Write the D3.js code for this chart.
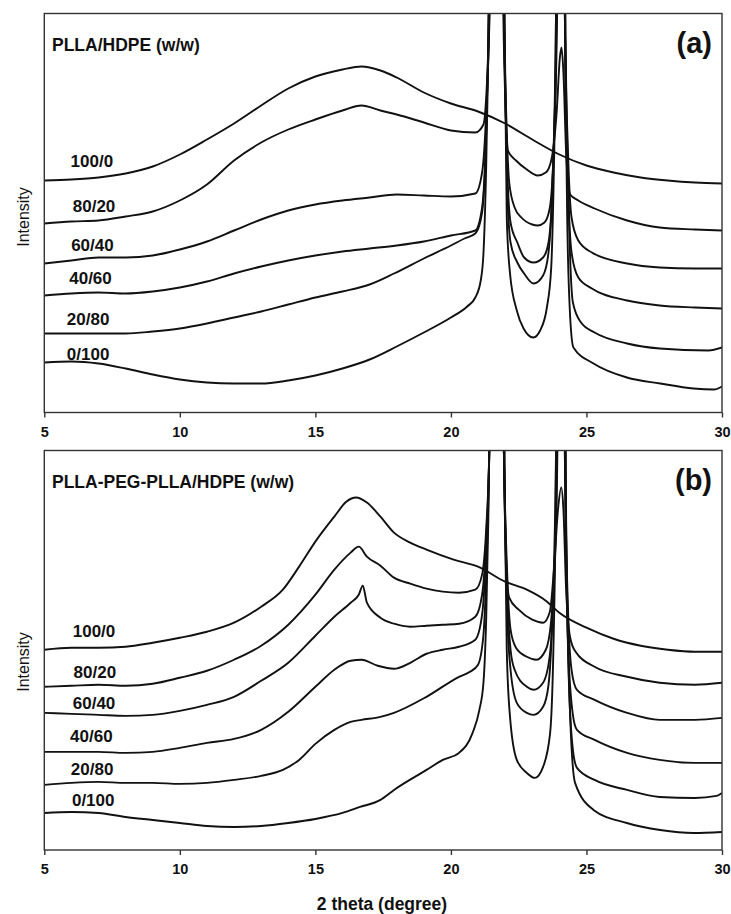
<!DOCTYPE html>
<html>
<head>
<meta charset="utf-8">
<script src="https://cdn.jsdelivr.net/npm/d3@7"></script>
<style>
body { margin: 0; background: #fff; }
text { font-family: "Liberation Sans", Arial, sans-serif; }
</style>
</head>
<body>
<svg id="chart" width="731" height="914"></svg>
<script>
// x ticks (2 theta, degree) and blend names
var ticks = [5, 10, 15, 20, 25, 30];
var blends = ["100/0", "80/20", "60/40", "40/60", "20/80", "0/100"];

// (a) PLLA/HDPE, [2theta, intensity a.u.]; peaks past the frame are clipped
var a100_0 = [[5,232],[6,233],[7,235],[8,239],[9,246],[10,258],[11,273],[12,289],[13,307],[14,324],[15,336],[16,343],[16.7,346],[17.4,342],[18,335],[19,320],[20,309],[21,301],[22,289],[23,273],[24,258],[25,247],[26,240],[27,235],[28,232],[29,230],[30,229]];
var a80_20 = [[5,189],[6,191],[7,192],[8,196],[9,201],[10,212],[11,228],[12,252],[13,270],[14,283],[15,293],[16,302],[16.7,307],[17.4,302],[18,298],[19,290],[20,282],[20.9,280],[21.2,288],[21.33,330],[21.43,405],[21.68,1400],[21.93,405],[22.02,300],[22.1,262],[22.4,252],[22.8,243],[23.2,237],[23.5,240],[23.7,252],[23.9,300],[24.02,355],[24.08,365],[24.15,340],[24.25,260],[24.4,218],[24.7,212],[25.3,204],[26.5,192],[27.7,185],[29,183],[30,182]];
var a60_40 = [[5,149],[6,152],[7,155],[8,155],[9,157],[10,163],[11,171],[12,182],[13,193],[14,202],[15,208],[16,212],[17,215],[18,218],[19,217],[20,216],[20.9,219],[21.15,240],[21.3,300],[21.42,405],[21.68,1400],[21.95,405],[22.05,290],[22.15,230],[22.35,205],[22.6,195],[23,188],[23.2,187],[23.45,190],[23.65,205],[23.8,270],[23.92,405],[24.06,1400],[24.2,405],[24.32,260],[24.45,195],[24.7,172],[25.2,160],[26.5,149],[27.7,145],[29,144],[30,144]];
var a40_60 = [[5,117],[6,119],[7,120],[8,119],[9,121],[10,125],[11,131],[12,139],[13,146],[14,152],[15,157],[16,161],[17,164],[18,167],[19,171],[20,177],[20.9,182],[21.15,205],[21.3,280],[21.4,405],[21.68,1400],[21.95,405],[22.07,250],[22.2,190],[22.45,170],[22.7,155],[23.05,150],[23.4,155],[23.6,170],[23.75,230],[23.9,405],[24.06,1400],[24.2,405],[24.32,230],[24.45,160],[24.7,135],[25.2,124],[26.5,112],[27.7,107],[29,105],[30,104]];
var a20_80 = [[5,79],[6,79],[7,79],[8,79],[9,81],[10,84],[11,89],[12,95],[13,101],[14,108],[15,115],[16,121],[17,128],[17.9,139],[19,154],[20,167],[20.5,174],[20.9,179],[21.15,200],[21.3,280],[21.4,405],[21.68,1400],[21.95,405],[22.07,230],[22.2,170],[22.45,150],[22.7,139],[23.05,129],[23.4,137],[23.6,160],[23.75,230],[23.88,405],[24.06,1400],[24.22,405],[24.35,200],[24.5,110],[24.8,90],[25.3,80],[26.5,69],[27.7,64],[29.5,62],[30,65]];
var a0_100 = [[5,50],[6,51],[7,49],[8,44],[9,38],[10,33],[11,30],[12,29],[13,29],[14,32],[15,37],[16,44],[17,53],[18,66],[19,80],[20,95],[20.6,106],[20.9,115],[21.1,132],[21.2,159],[21.3,245],[21.37,345],[21.68,1400],[22,345],[22.06,195],[22.18,139],[22.43,102],[22.68,84],[23.04,75],[23.29,82],[23.54,105],[23.7,145],[23.8,245],[23.86,345],[24.06,1400],[24.22,345],[24.3,179],[24.4,95],[24.52,65],[25.26,49],[26.49,35],[27.72,29],[28.95,24],[29.7,23],[30,26]];

// (b) PLLA-PEG-PLLA/HDPE
var b100_0 = [[5,200],[6,202],[7,202],[8,203],[9,207],[10,212],[11,218],[12,227],[13,243],[13.8,260],[14.4,283],[15,308],[15.7,333],[16.15,348],[16.5,352],[16.9,347],[17.4,333],[17.9,317],[18.5,307],[19.1,300],[20.1,290],[21,283],[22,268],[22.8,260],[23.5,249],[24,237],[25,222],[26,211],[27,204],[28,200],[29,198],[30,198]];
var b80_20 = [[5,163],[6,164],[7,165],[8,164],[9,166],[10,172],[11,179],[12,190],[13,204],[14,225],[15,255],[15.7,280],[16.3,297],[16.6,303],[16.9,293],[17.4,284],[17.9,272],[18.5,266],[19.1,261],[19.7,258],[20.3,257],[20.9,260],[21.15,275],[21.3,320],[21.42,405],[21.68,1400],[21.95,405],[22.05,280],[22.15,252],[22.5,240],[23,230],[23.4,227],[23.65,238],[23.8,280],[23.95,340],[24.07,362],[24.15,340],[24.25,260],[24.4,212],[24.6,198],[25.3,183],[26.5,173],[27.7,167],[29,165],[30,167]];
var b60_40 = [[5,137],[6,136],[7,135],[8,134],[9,135],[10,139],[11,145],[12,153],[13,169],[14,187],[15,214],[15.7,233],[16.3,247],[16.6,255],[16.75,264],[16.9,247],[17.4,232],[17.9,226],[18.5,223],[19.1,224],[19.7,225],[20.3,226],[20.9,233],[21.15,255],[21.3,310],[21.42,405],[21.68,1400],[21.95,405],[22.07,280],[22.2,220],[22.4,202],[22.8,193],[23.15,190],[23.5,200],[23.7,230],[23.85,300],[23.93,405],[24.06,1400],[24.2,405],[24.32,240],[24.45,180],[24.65,160],[25.3,150],[26.5,137],[27.7,130],[29,130],[30,132]];
var b40_60 = [[5,98],[6,98],[7,98],[8,97],[9,98],[10,102],[11,107],[12,111],[13,120],[14,138],[15,163],[15.7,180],[16.3,189],[16.7,190],[17.3,184],[17.9,181],[18.5,187],[19.1,196],[19.7,200],[20.3,203],[20.9,210],[21.15,235],[21.3,300],[21.42,405],[21.68,1400],[21.95,405],[22.07,260],[22.2,200],[22.35,180],[22.8,163],[23.05,160],[23.4,167],[23.65,195],[23.8,270],[23.92,405],[24.06,1400],[24.2,405],[24.33,200],[24.5,135],[24.65,120],[25.3,110],[26.5,97],[27.7,90],[29,87],[30,87]];
var b20_80 = [[5,65],[6,67],[7,68],[8,67],[9,67],[10,66],[11,67],[12,70],[13,74],[13.8,80],[14.4,90],[15,106],[15.7,120],[16.3,128],[16.7,130],[17.4,133],[17.9,137],[19.1,153],[20.3,173],[20.7,178],[21,185],[21.2,215],[21.32,290],[21.42,405],[21.68,1400],[21.95,405],[22.07,240],[22.2,180],[22.43,147],[22.8,137],[23.05,135],[23.4,143],[23.6,165],[23.75,240],[23.88,405],[24.06,1400],[24.22,405],[24.35,170],[24.5,100],[24.65,82],[25.3,70],[26.5,60],[27.7,53],[29,52],[29.8,54],[30,57]];
var b0_100 = [[5,37],[6,38],[7,37],[8,33],[9,30],[10,27],[11,24],[12,23],[13,24],[14,27],[15,31],[16,37],[16.65,43],[17.4,50],[17.9,60],[19.1,80],[19.7,90],[20.3,97],[20.8,117],[21.05,140],[21.2,167],[21.3,230],[21.38,330],[21.68,1400],[22,330],[22.06,200],[22.18,133],[22.43,90],[22.8,77],[23.1,72],[23.4,83],[23.66,117],[23.78,200],[23.86,330],[24.06,1400],[24.25,330],[24.4,133],[24.58,67],[25.26,40],[26.49,27],[27.72,20],[28.95,17],[30,18]];

// where each blend label sits (2theta, intensity of the baseline)
var labelAtA = [[5.97,246],[6.05,201],[5.99,162],[5.92,129],[5.83,88],[5.83,53]];
var labelAtB = [[6.05,213],[6.08,172],[6.05,141],[5.95,108],[5.98,75],[6.02,44]];

var svg = d3.select("#chart");
var x = d3.scaleLinear().domain([5, 30]).range([44.3, 722]);

var drawPanel = function(top, bottom, id, title, letter, series, labelAt, yLabelMid) {
  var y = d3.scaleLinear().domain([0, 399]).range([bottom, top]);
  var g = svg.append("g");

  g.append("clipPath").attr("id", id).append("rect")
    .attr("x", x(5)).attr("y", top).attr("width", x(30) - x(5)).attr("height", bottom - top);

  var line = d3.line().x(function(d) { return x(d[0]); }).y(function(d) { return y(d[1]); })
    .curve(d3.curveMonotoneX);

  var lines = g.append("g").attr("clip-path", "url(#" + id + ")");
  series.forEach(function(s) {
    lines.append("path").attr("d", line(s)).attr("fill", "none")
      .attr("stroke", "#111").attr("stroke-width", 1.9).attr("stroke-linejoin", "round");
  });

  g.append("rect").attr("x", x(5)).attr("y", top).attr("width", x(30) - x(5)).attr("height", bottom - top)
    .attr("fill", "none").attr("stroke", "#333").attr("stroke-width", 1.4);

  var axis = g.append("g").attr("transform", "translate(0," + bottom + ")")
    .call(d3.axisBottom(x).tickValues(ticks).tickSize(5).tickPadding(9).tickFormat(d3.format("d")));
  axis.select(".domain").remove();
  axis.selectAll(".tick line").attr("stroke", "#333").attr("stroke-width", 1.4);
  axis.selectAll(".tick text").attr("fill", "#111").attr("font-size", 14.5).attr("font-weight", "bold")
    .attr("font-family", "'Liberation Sans', Arial, sans-serif");

  blends.forEach(function(b, i) {
    g.append("text").attr("x", x(labelAt[i][0])).attr("y", y(labelAt[i][1]))
      .attr("font-size", 17).attr("font-weight", "bold").attr("fill", "#111").text(b);
  });

  g.append("text").attr("x", 52).attr("y", top + 37.5)
    .attr("font-size", 17.5).attr("font-weight", "bold").attr("fill", "#111").text(title);
  g.append("text").attr("x", 712).attr("y", top + 39.5).attr("text-anchor", "end")
    .attr("font-size", 29).attr("font-weight", "bold").attr("fill", "#111").text(letter);

  g.append("text").attr("transform", "translate(29," + yLabelMid + ") rotate(-90)")
    .attr("text-anchor", "middle").attr("font-size", 16).attr("fill", "#111").text("Intensity");
};

drawPanel(13.5, 412.5, "clipA", "PLLA/HDPE (w/w)", "(a)",
  [a100_0, a80_20, a60_40, a40_60, a20_80, a0_100], labelAtA, 217);
drawPanel(450.5, 850, "clipB", "PLLA-PEG-PLLA/HDPE (w/w)", "(b)",
  [b100_0, b80_20, b60_40, b40_60, b20_80, b0_100], labelAtB, 662);

svg.append("text").attr("x", 382).attr("y", 910).attr("text-anchor", "middle")
  .attr("font-size", 17.5).attr("font-weight", "bold").attr("fill", "#111").text("2 theta (degree)");
</script>
</body>
</html>
